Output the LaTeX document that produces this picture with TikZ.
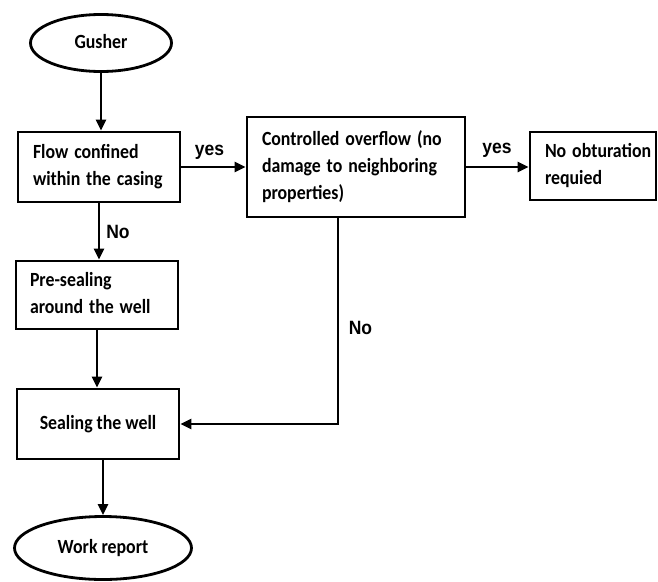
\documentclass[tikz,border=0pt]{standalone}
\usepackage{fontspec}
\usepackage{graphicx}
\setmainfont{Carlito}
\newfontfamily\labfont{Liberation Sans}
\usetikzlibrary{shapes.geometric,arrows.meta}
\newcommand{\vtxt}[1]{\scalebox{1}[1.13]{\begin{tabular}{@{}l@{}}#1\end{tabular}}}
\begin{document}
\begin{tikzpicture}[x=1pt,y=-1pt,
  txt/.style={font=\fontsize{17.8}{24}\selectfont\bfseries},
  box/.style={draw, line width=2.8pt, rectangle, inner sep=0pt, txt},
  ell/.style={draw, line width=2.8pt, ellipse, inner sep=0pt, txt},
  arr/.style={line width=2.8pt, -{Triangle[length=11pt,width=10pt]}},
  lab/.style={font=\labfont\fontsize{17.5}{20}\selectfont\bfseries, anchor=base, inner sep=0pt}]
\useasboundingbox (0,0) rectangle (658,581);

\node[ell, minimum width=141pt, minimum height=57pt] (gusher) at (101,43) {\vtxt{Gusher}};
\node[box, minimum width=162pt, minimum height=70pt, text width=132pt] (flow) at (99,167) {\vtxt{Flow confined\\within the casing}};
\node[box, minimum width=218pt, minimum height=100pt, text width=188pt] (ctrl) at (356,167) {\vtxt{Controlled overflow (no\\damage to neighboring\\properties)}};
\node[box, minimum width=126pt, minimum height=68pt, text width=96pt] (noobt) at (593,166) {\vtxt{No obturation\\requied}};
\node[box, minimum width=162pt, minimum height=68pt, text width=134pt] (pre) at (97,295) {\vtxt{Pre-sealing\\around the well}};
\node[box, minimum width=162pt, minimum height=70pt] (seal) at (98,424) {\vtxt{Sealing the well}};
\node[ell, minimum width=177pt, minimum height=63pt] (work) at (103,548) {\vtxt{Work report}};

\coordinate (turn) at (338,424);

\draw[arr] (gusher.south) -- (gusher.south |- flow.north);
\draw[arr] (flow.east) -- (flow.east -| ctrl.west);
\draw[arr] (ctrl.east) -- (ctrl.east -| noobt.west);
\draw[arr] (flow.south) -- (flow.south |- pre.north);
\draw[arr] (pre.south) -- (pre.south |- seal.north);
\draw[arr] (turn |- ctrl.south) -- (turn) -- (seal.east);
\draw[arr] (seal.south -| work.north) -- (work.north);

\node[lab] (yes1) at (209.5,155) {\scalebox{1}[1.1]{yes}};
\node[lab] (yes2) at (497,153) {\scalebox{1}[1.1]{yes}};
\node[lab] (no1) at (118,238) {\scalebox{1}[1.1]{No}};
\node[lab] (no2) at (360.5,334) {\scalebox{1}[1.1]{No}};
\end{tikzpicture}
\end{document}
